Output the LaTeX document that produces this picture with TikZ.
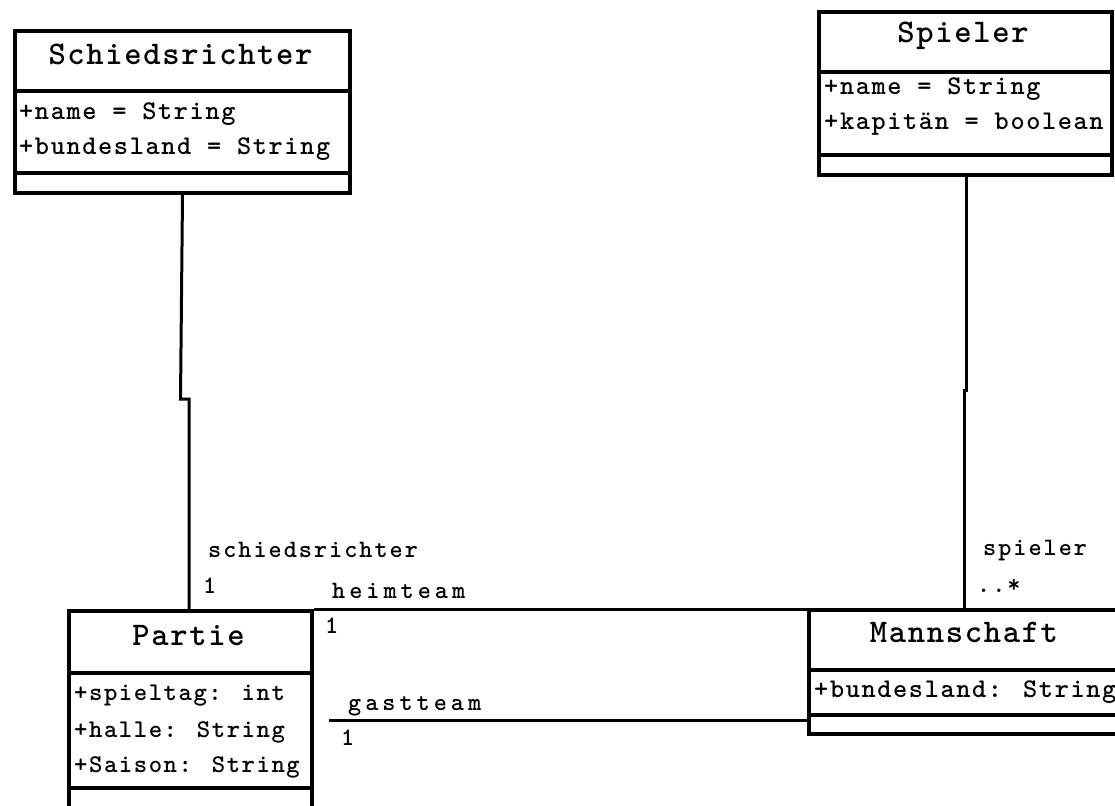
\documentclass[tikz,border=0pt]{standalone}
\usepackage{fontspec}
\newfontfamily\hdfont[LetterSpace=5]{lmmonolt10-bold.otf}
\newfontfamily\atfont[LetterSpace=6]{lmmonolt10-bold.otf}
\newfontfamily\lbfont[LetterSpace=8]{lmmonolt10-bold.otf}
\newfontfamily\wlbfont[LetterSpace=16]{lmmonolt10-bold.otf}
\tikzset{
  cls/.style={draw, line width=4pt, anchor=north west, inner sep=0pt},
  divline/.style={line width=3.5pt},
  conn/.style={line width=3pt},
  title/.style={anchor=base, inner sep=0pt, font=\hdfont\fontsize{33}{36}\selectfont},
  attr/.style={anchor=base west, inner sep=0pt, font=\atfont\fontsize{27}{30}\selectfont},
  sattr/.style={anchor=base west, inner sep=0pt, font=\atfont\fontsize{25.5}{30}\selectfont},
  lbl/.style={anchor=base west, inner sep=0pt, font=\lbfont\fontsize{25}{28}\selectfont},
  wlbl/.style={anchor=base west, inner sep=0pt, font=\wlbfont\fontsize{25}{28}\selectfont},
}
\begin{document}
\begin{tikzpicture}[x=1pt,y=-1pt]
\useasboundingbox (0,0) rectangle (1115,805);
\clip (0,0) rectangle (1115,805);
\fill[white] (0,0) rectangle (1115,805);

% Schiedsrichter
\node[cls, minimum width=335pt, minimum height=162pt] (schied) at (13,29) {};
\draw[divline] (13,91) -- (348,91);
\draw[divline] (13,173) -- (348,173);
\node[title] (schiedT) at (180.5,65) {Schiedsrichter};
\node[attr] (schiedA1) at (19,120) {+name = String};
\node[attr] (schiedA2) at (19,155) {+bundesland = String};

% Spieler
\node[cls, minimum width=293pt, minimum height=163pt] (spieler) at (817,10) {};
\draw[divline] (817,72) -- (1110,72);
\draw[divline] (817,155) -- (1110,155);
\node[title] (spielerT) at (963,43) {Spieler};
\node[attr] (spielerA1) at (824,95) {+name = String};
\node[attr] (spielerA2) at (824,130) {+kapitän = boolean};

% Partie
\node[cls, minimum width=243pt, minimum height=240pt] (partie) at (67,609) {};
\draw[divline] (67,673) -- (310,673);
\draw[divline] (67,788) -- (310,788);
\node[title] (partieT) at (188.5,645) {Partie};
\node[sattr] (partieA1) at (74,700) {+spieltag: int};
\node[sattr] (partieA2) at (74,737) {+halle: String};
\node[sattr] (partieA3) at (74,772) {+Saison: String};

% Mannschaft
\node[cls, minimum width=340pt, minimum height=124pt] (mann) at (807,608) {};
\draw[divline] (807,670) -- (1147,670);
\draw[divline] (807,715) -- (1147,715);
\node[title] (mannT) at (964,642) {Mannschaft};
\node[attr] (mannA1) at (814,697) {+bundesland: String};

% connectors
\coordinate (sA) at (180.5,399);
\coordinate (sB) at (189,399);
\draw[conn] (schied.south) -- (sA) -- (sB) -- (sB |- partie.north);

\coordinate (pA) at (966,390);
\coordinate (pB) at (964,390);
\draw[conn] (pA |- spieler.south) -- (pA) -- (pB) -- (pB |- mann.north);

\draw[conn] (partie.north east) -- (partie.north east -| mann.west);

\coordinate (g) at (329,720);
\draw[conn] (g) -- (g -| mann.west);

% labels
\node[lbl] (l1) at (208,557) {schiedsrichter};
\node[lbl] (l2) at (203,593) {1};
\node[wlbl] (l3) at (332,598) {heimteam};
\node[lbl] (l4) at (325,633) {1};
\node[wlbl] (l5) at (348,710) {gastteam};
\node[lbl] (l6) at (341,745) {1};
\node[lbl] (l7) at (983,555) {spieler};
\node[lbl] (l8) at (977,592) {..*};
\end{tikzpicture}
\end{document}
